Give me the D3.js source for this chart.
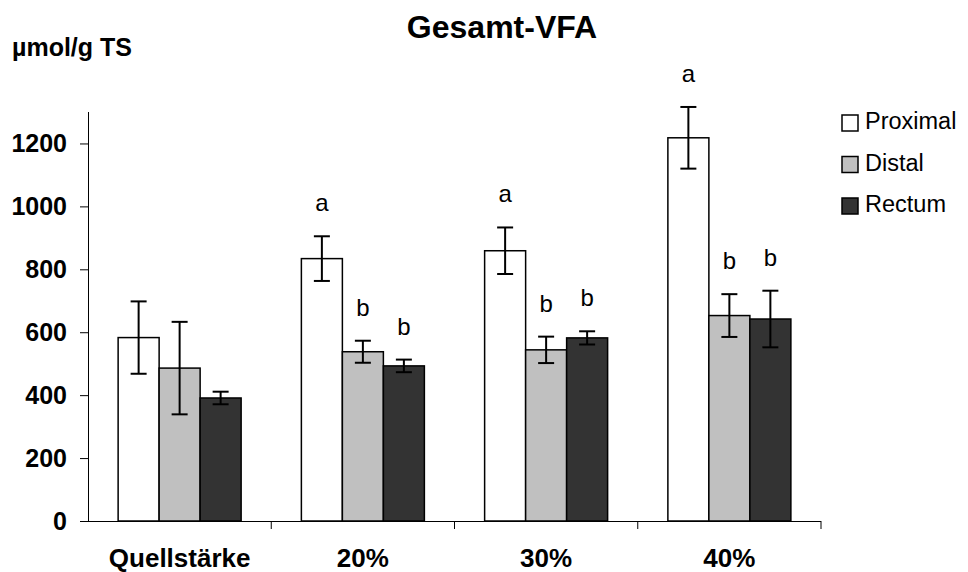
<!DOCTYPE html>
<html>
<head>
<meta charset="utf-8">
<script src="https://cdn.jsdelivr.net/npm/d3@7"></script>
<style>
  body { margin: 0; background: #fff; }
  text { font-family: "Liberation Sans", Arial, sans-serif; }
</style>
</head>
<body>
<div id="chart"></div>
<script>
// values
var categories = ['Quellstärke', '20%', '30%', '40%'];
var series = ['Proximal', 'Distal', 'Rectum'];
var proximal = [583, 834, 859, 1218];
var distal = [486, 538, 544, 653];
var rectum = [391, 493, 582, 642];
var proximalErr = [115, 71, 74, 98];
var distalErr = [147, 35, 42, 68];
var rectumErr = [20, 20, 21, 90];
var proximalSig = ['', 'a', 'a', 'a'];
var distalSig = ['', 'b', 'b', 'b'];
var rectumSig = ['', 'b', 'b', 'b'];
var yTicks = [0, 200, 400, 600, 800, 1000, 1200];

var colors = ['#ffffff', '#c0c0c0', '#333333'];

var rows = [];
categories.forEach(function(c, i) {
  rows.push({cat: c, s: 'Proximal', v: proximal[i], e: proximalErr[i], sig: proximalSig[i]});
  rows.push({cat: c, s: 'Distal', v: distal[i], e: distalErr[i], sig: distalSig[i]});
  rows.push({cat: c, s: 'Rectum', v: rectum[i], e: rectumErr[i], sig: rectumSig[i]});
});

var svg = d3.select('#chart').append('svg')
            .attr('width', 968).attr('height', 572);

var x0 = d3.scaleBand().domain(categories).range([88, 821]);
var x1 = d3.scaleBand().domain(series).range([0, 123]);
var y = d3.scaleLinear().domain([0, 1300]).range([521, 112]);
var color = d3.scaleOrdinal().domain(series).range(colors);
var pad = (x0.bandwidth() - 123) / 2;

// title
svg.append('text')
   .attr('x', 502).attr('y', 38)
   .attr('text-anchor', 'middle')
   .style('font-size', '32px').style('font-weight', 'bold')
   .text('Gesamt-VFA');

svg.append('text')
   .attr('x', 12).attr('y', 56)
   .style('font-size', '25px').style('font-weight', 'bold')
   .text('µmol/g TS');

// bars
var barX = function(d) { return x0(d.cat) + pad + x1(d.s); };
svg.append('g').selectAll('rect')
   .data(rows).enter().append('rect')
   .attr('x', barX)
   .attr('y', function(d) { return y(d.v); })
   .attr('width', x1.bandwidth())
   .attr('height', function(d) { return y(0) - y(d.v); })
   .style('fill', function(d) { return color(d.s); })
   .style('stroke', '#000').style('stroke-width', 1.5);

// error bars
var eb = svg.append('g').selectAll('g').data(rows).enter().append('g')
            .style('stroke', '#000').style('stroke-width', 2);
var cx = function(d) { return barX(d) + x1.bandwidth() / 2; };
eb.append('line')
  .attr('x1', cx).attr('x2', cx)
  .attr('y1', function(d) { return y(d.v + d.e); })
  .attr('y2', function(d) { return y(d.v - d.e); });
eb.append('line')
  .attr('x1', function(d) { return cx(d) - 8; }).attr('x2', function(d) { return cx(d) + 8; })
  .attr('y1', function(d) { return y(d.v + d.e); })
  .attr('y2', function(d) { return y(d.v + d.e); });
eb.append('line')
  .attr('x1', function(d) { return cx(d) - 8; }).attr('x2', function(d) { return cx(d) + 8; })
  .attr('y1', function(d) { return y(d.v - d.e); })
  .attr('y2', function(d) { return y(d.v - d.e); });

// significance letters
svg.append('g').selectAll('text')
   .data(rows.filter(function(d) { return d.sig; }))
   .enter().append('text')
   .attr('x', cx)
   .attr('y', function(d) { return y(d.v + d.e) - 25; })
   .attr('text-anchor', 'middle')
   .style('font-size', '24px')
   .text(function(d) { return d.sig; });

// y axis
var yAxis = svg.append('g')
   .attr('transform', 'translate(88,0)')
   .call(d3.axisLeft(y).tickValues(yTicks).tickFormat(d3.format('d'))
           .tickSize(8).tickPadding(13).tickSizeOuter(0));
yAxis.select('.domain').attr('d', 'M0.5,' + y(1300) + 'V' + y(0));
yAxis.selectAll('text').style('font-size', '25px').style('font-weight', 'bold')
     .style('font-family', '"Liberation Sans", Arial, sans-serif').attr('fill', '#000');

// x axis
var xAxis = svg.append('g')
   .attr('transform', 'translate(0,521)')
   .call(d3.axisBottom(x0).tickSize(0).tickPadding(28));
xAxis.select('.domain').remove();
xAxis.selectAll('text').style('font-size', '26px').style('font-weight', 'bold')
     .style('font-family', '"Liberation Sans", Arial, sans-serif').attr('fill', '#000');
xAxis.append('line').attr('x1', 88).attr('x2', 821).attr('y1', 0.5).attr('y2', 0.5)
     .style('stroke', '#000');
xAxis.selectAll('.sep').data(categories).enter().append('line')
     .attr('class', 'sep')
     .attr('x1', function(d) { return x0(d) + x0.bandwidth(); })
     .attr('x2', function(d) { return x0(d) + x0.bandwidth(); })
     .attr('y1', 0).attr('y2', 8)
     .style('stroke', '#000');

// legend
var legend = svg.append('g').selectAll('g').data(series).enter().append('g')
   .attr('transform', function(d, i) { return 'translate(842,' + (115 + i * 41.5) + ')'; });
legend.append('rect')
   .attr('width', 16).attr('height', 16)
   .style('fill', function(d) { return color(d); })
   .style('stroke', '#000').style('stroke-width', 1.5);
legend.append('text')
   .attr('x', 23).attr('y', 14)
   .style('font-size', '23.5px')
   .text(function(d) { return d; });
</script>
</body>
</html>
